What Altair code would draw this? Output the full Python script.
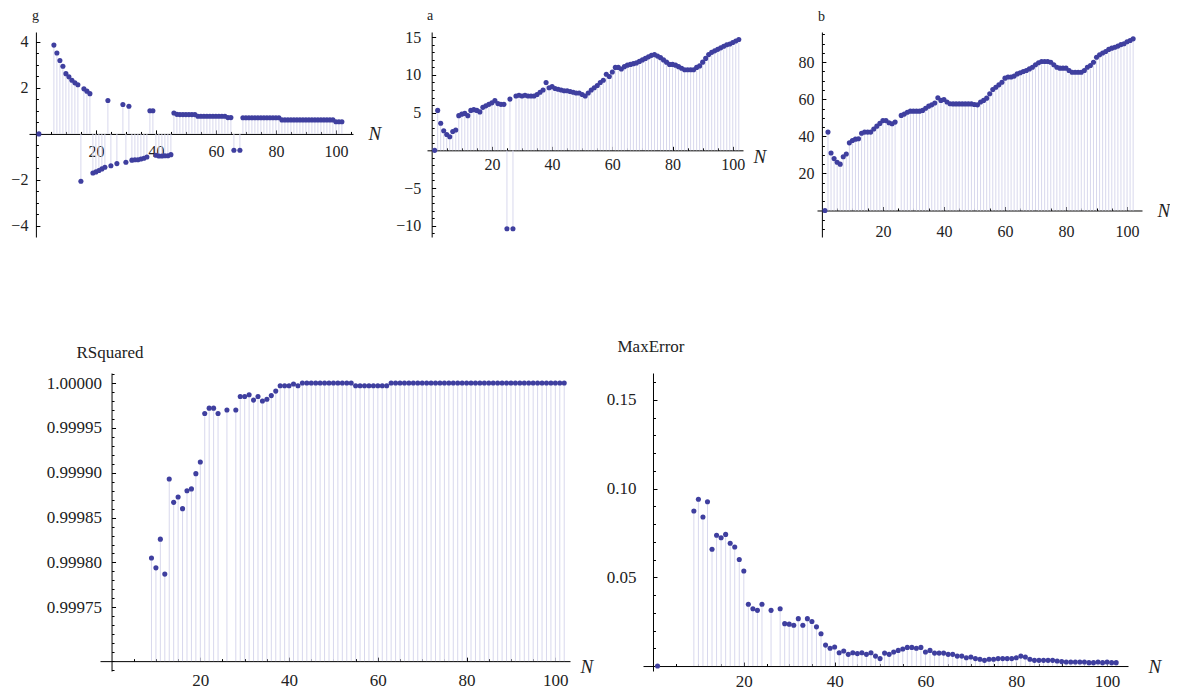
import altair as alt
import pandas as pd

# ---------------- data (N = 1..102) ----------------
N = list(range(1, 103))

g_vals = [0, None, None, None, None, 3.86, 3.52, 3.19, 2.94, 2.62,
          2.48, 2.33, 2.22, 2.14, -2.06, 1.96, 1.86, 1.75, -1.70, -1.65,
          -1.59, -1.52, -1.45, 1.45, -1.38, None, -1.29, None, 1.28, -1.23,
          1.20, -1.14, -1.12, -1.12, -1.09, -1.06, -1.00, 1.01, 1.01, -0.93,
          -0.96, -0.96, -0.95, -0.95, -0.90, 0.91, 0.85, 0.84, 0.84, 0.84,
          0.84, 0.84, 0.84, 0.77, 0.77, 0.77, 0.77, 0.77, 0.77, 0.77,
          0.77, 0.77, 0.77, 0.71, 0.71, -0.71, None, -0.71, 0.70, 0.70,
          0.70, 0.70, 0.70, 0.70, 0.70, 0.70, 0.70, 0.70, 0.70, 0.70,
          0.70, 0.61, 0.61, 0.61, 0.61, 0.61, 0.61, 0.61, 0.61, 0.61,
          0.61, 0.61, 0.61, 0.61, 0.61, 0.61, 0.61, 0.61, 0.61, 0.53,
          0.53, 0.53]

a_vals = [0, 5.3, 3.6, 2.6, 2.1, 1.8, 2.5, 2.7, 4.6, 4.8,
          4.9, 4.6, 5.3, 5.4, 5.3, 5.1, 5.7, 5.9, 6.1, 6.3,
          6.6, 6.2, 6.1, 6.1, -10.4, 6.8, -10.4, 7.2, 7.3, 7.2,
          7.3, 7.2, 7.2, 7.2, 7.4, 7.7, 8.0, 9.0, 8.3, 8.45,
          8.2, 8.1, 8.0, 7.9, 7.9, 7.8, 7.7, 7.6, 7.6, 7.4,
          7.2, 7.6, 8.0, 8.3, 8.6, 9.0, 9.3, 10.1, 9.8, 10.4,
          11.0, 11.0, 10.8, 11.1, 11.3, 11.4, 11.5, 11.6, 11.8, 12.0,
          12.2, 12.4, 12.6, 12.7, 12.5, 12.3, 12.0, 11.7, 11.4, 11.4,
          11.3, 11.1, 10.9, 10.7, 10.7, 10.7, 10.7, 11.0, 11.2, 11.7,
          12.2, 12.7, 13.0, 13.2, 13.4, 13.6, 13.8, 14.0, 14.1, 14.3,
          14.5, 14.7]

b_vals = [0, 42.3, 31, 28, 26, 25, 29, 30.5, 36.5, 37.8,
          38.5, 38.7, 41.7, 42.3, 42.3, 42.3, 44, 45.5, 47, 48.5,
          48.5, 47.3, 46.8, 47.7, None, 51.3, 52, 53, 53.6, 53.6,
          53.6, 53.6, 54, 55.2, 56.3, 57, 58, 60.8, 59.4, 59.9,
          58.5, 57.6, 57.5, 57.5, 57.5, 57.5, 57.5, 57.5, 57.5, 57.2,
          57, 58.5, 59.4, 60.6, 63, 65.3, 66.5, 67.8, 69.2, 71.4,
          72, 72, 72.5, 73.7, 74.3, 75, 75.5, 76.4, 77.3, 78.6,
          79.7, 80.4, 80.4, 80.4, 80, 78.6, 77.3, 76.8, 76.8, 76.8,
          75.5, 74.6, 74.6, 74.6, 74.6, 75.5, 77.3, 78.2, 80, 82.7,
          84, 85, 85.8, 86.9, 87.6, 88.1, 88.7, 89.5, 90, 91,
          91.7, 92.6]

rsq_vals = [None, None, None, None, None, None, None, None, 0.999805, 0.999794,
            0.999826, 0.999787, 0.999893, 0.999867, 0.999873, 0.999860, 0.999880, 0.999882, 0.999899, 0.999912,
            0.999966, 0.999972, 0.999972, 0.999966, None, 0.999970, None, 0.999970, 0.999985, 0.999985,
            0.999987, 0.999981, 0.999985, 0.999980, 0.999982, 0.999986, 0.999991, 0.999997, 0.999997, 0.999997,
            0.999999, 0.999997, 1.0, 1.0, 1.0, 1.0, 1.0, 1.0, 1.0, 1.0,
            1.0, 1.0, 1.0, 1.0, 0.999997, 0.999997, 0.999997, 0.999997, 0.999997, 0.999997,
            0.999997, 0.999997, 1.0, 1.0, 1.0, 1.0, 1.0, 1.0, 1.0, 1.0,
            1.0, 1.0, 1.0, 1.0, 1.0, 1.0, 1.0, 1.0, 1.0, 1.0,
            1.0, 1.0, 1.0, 1.0, 1.0, 1.0, 1.0, 1.0, 1.0, 1.0,
            1.0, 1.0, 1.0, 1.0, 1.0, 1.0, 1.0, 1.0, 1.0, 1.0,
            1.0, 1.0]

maxerr_vals = [0, None, None, None, None, None, None, None, 0.0874, 0.0940,
               0.0840, 0.0926, 0.0658, 0.0737, 0.0723, 0.0742, 0.0692, 0.0671, 0.0601, 0.0536,
               0.0348, 0.0323, 0.0314, 0.0348, None, 0.0314, None, 0.0323, 0.0239, 0.0236,
               0.0230, 0.0267, 0.0230, 0.0267, 0.0251, 0.0221, 0.0182, 0.0118, 0.0100, 0.0107,
               0.0075, 0.0085, 0.0066, 0.0075, 0.0070, 0.0075, 0.0066, 0.0075, 0.0056, 0.0042,
               0.0073, 0.0066, 0.0079, 0.0088, 0.0096, 0.0105, 0.0105, 0.0100, 0.0105, 0.0079,
               0.0088, 0.0073, 0.0073, 0.0073, 0.0066, 0.0066, 0.0056, 0.0056, 0.0047, 0.0051,
               0.0042, 0.0038, 0.0032, 0.0038, 0.0038, 0.0042, 0.0042, 0.0042, 0.0042, 0.0047,
               0.0056, 0.0051, 0.0038, 0.0032, 0.0032, 0.0032, 0.0032, 0.0032, 0.0028, 0.0025,
               0.0023, 0.0023, 0.0023, 0.0023, 0.0023, 0.0019, 0.0019, 0.0023, 0.0019, 0.0023,
               0.0019, 0.0019]

# tick labels
X_MAJOR = [20, 40, 60, 80, 100]
X_MINOR = [5, 10, 15, 25, 30, 35, 45, 50, 55, 65, 70, 75, 85, 90, 95, 105]
G_MAJOR = [-4, -2, 2, 4]
A_MAJOR = [-10, -5, 5, 10, 15]
B_MAJOR = [20, 40, 60, 80]
RSQ_MAJOR = [0.99975, 0.99980, 0.99985, 0.99990, 0.99995, 1.00000]
ME_MAJOR = [0.05, 0.10, 0.15]

SERIF = "Liberation Serif"
PT = "#3f3f9f"
FILL = "#d8d8ed"
TXT = "#222222"


def minor(lo, hi, step):
    k0 = int(round(lo / step)) - 1
    k1 = int(round(hi / step)) + 1
    return [round(k * step, 8) for k in range(k0, k1 + 1) if lo <= k * step <= hi]


def panel(vals, name, xdom, ydom, base, w, h, ymaj, ystep, yfmt, fs,
          xgap, ygap, tdx, tdy, tfs, ndx, ndy, xshift=0):
    df = pd.DataFrame({"N": N, "v": vals}).dropna()
    df["base"] = base
    W = w + xshift
    x0 = xshift + (0 - xdom[0]) / (xdom[1] - xdom[0]) * w
    y0 = (ydom[1] - base) / (ydom[1] - ydom[0]) * h
    xs = alt.Scale(domain=xdom, nice=False, zero=False, range=[xshift, W])
    ys = alt.Scale(domain=ydom, nice=False, zero=False)
    TS, ts = 4, 2.5
    common = dict(grid=False, domainColor="black", tickColor="black",
                  domainWidth=1, tickWidth=1, labelFont=SERIF, labelFontSize=fs,
                  labelColor=TXT, labelOverlap=False, labelFlush=False,
                  labelBound=False)
    xa = alt.Axis(orient="top", offset=-y0, values=X_MAJOR, format="d",
                  tickSize=TS, labelPadding=-(xgap + TS), labelBaseline="top",
                  title="N", titleX=W + ndx, titleY=ndy, titleAngle=0,
                  titleAlign="left", titleBaseline="middle", titleFont=SERIF,
                  titleFontStyle="italic", titleFontSize=19,
                  titleFontWeight="normal", titleColor=TXT, **common)
    ya = alt.Axis(orient="right", offset=-(W - x0), values=ymaj, format=yfmt,
                  tickSize=TS, labelPadding=-(ygap + TS), labelAlign="right",
                  labelBaseline="middle", title=name, titleX=tdx, titleY=tdy,
                  titleAngle=0, titleAlign="center", titleBaseline="alphabetic",
                  titleFont=SERIF, titleFontSize=tfs, titleFontWeight="normal",
                  titleColor=TXT, **common)
    xm = alt.Axis(orient="top", offset=-y0,
                  values=[v for v in X_MINOR if xdom[0] <= v <= xdom[1]],
                  tickSize=ts, labels=False, domain=False, title=None,
                  grid=False, tickColor="black")
    ym = alt.Axis(orient="right", offset=-(W - x0),
                  values=minor(ydom[0], ydom[1], ystep),
                  tickSize=ts, labels=False, domain=False, title=None,
                  grid=False, tickColor="black")
    fill = alt.Chart(df).mark_rule(color=FILL, strokeWidth=1).encode(
        x=alt.X("N:Q", scale=xs, axis=xa),
        y=alt.Y("v:Q", scale=ys, axis=ya),
        y2="base:Q",
    )
    pts = alt.Chart(df).mark_circle(size=26, color=PT, opacity=1).encode(
        x=alt.X("N:Q", scale=xs, axis=xm),
        y=alt.Y("v:Q", scale=ys, axis=ym),
    )
    return alt.layer(fill, pts).resolve_axis(
        x="independent", y="independent").properties(width=W, height=h)


pg = panel(g_vals, "g", [-2.3, 105.7], [-4.48, 4.43], 0, 324, 205, G_MAJOR, 0.5, "d",
           16, 10, 8, -1, -13, 14, 15, 0)
pa = panel(a_vals, "a", [-1.55, 103.4], [-11.5, 15.7], 0, 316, 205, A_MAJOR, 1, "d",
           16, 6, 11, -2, -13, 14, 10, 6)
pb = panel(b_vals, "b", [-1.6, 104.9], [-14.3, 96.3], 0, 325, 205, B_MAJOR, 5, "d",
           16, 13, 8, -1, -12, 14, 15, 0)
pr = panel(rsq_vals, "RSquared", [-2.6, 103.3], [0.999679, 1.0000112], 0.99969, 470, 298,
           RSQ_MAJOR, 0.00001, ".5f", 17, 11, 10, -2, -16, 17, 10, 5, xshift=71)
pm = panel(maxerr_vals, "MaxError", [-2.2, 104.6], [-0.0028, 0.1652], 0, 485, 298,
           ME_MAJOR, 0.01, ".2f", 17, 7, 17, -2.5, -22, 17, 20, 0)

top = alt.hconcat(pg, pa, pb, spacing=74, bounds="flush")
bottom = alt.hconcat(pr, pm, spacing=73, bounds="flush")

chart = alt.vconcat(top, bottom, spacing=97).properties(
    padding={"left": 2, "top": 0, "right": 0, "bottom": 0},
    background="white",
).configure_view(stroke=None)

chart.save("out.html", embed_options={"renderer": "svg", "actions": False})
